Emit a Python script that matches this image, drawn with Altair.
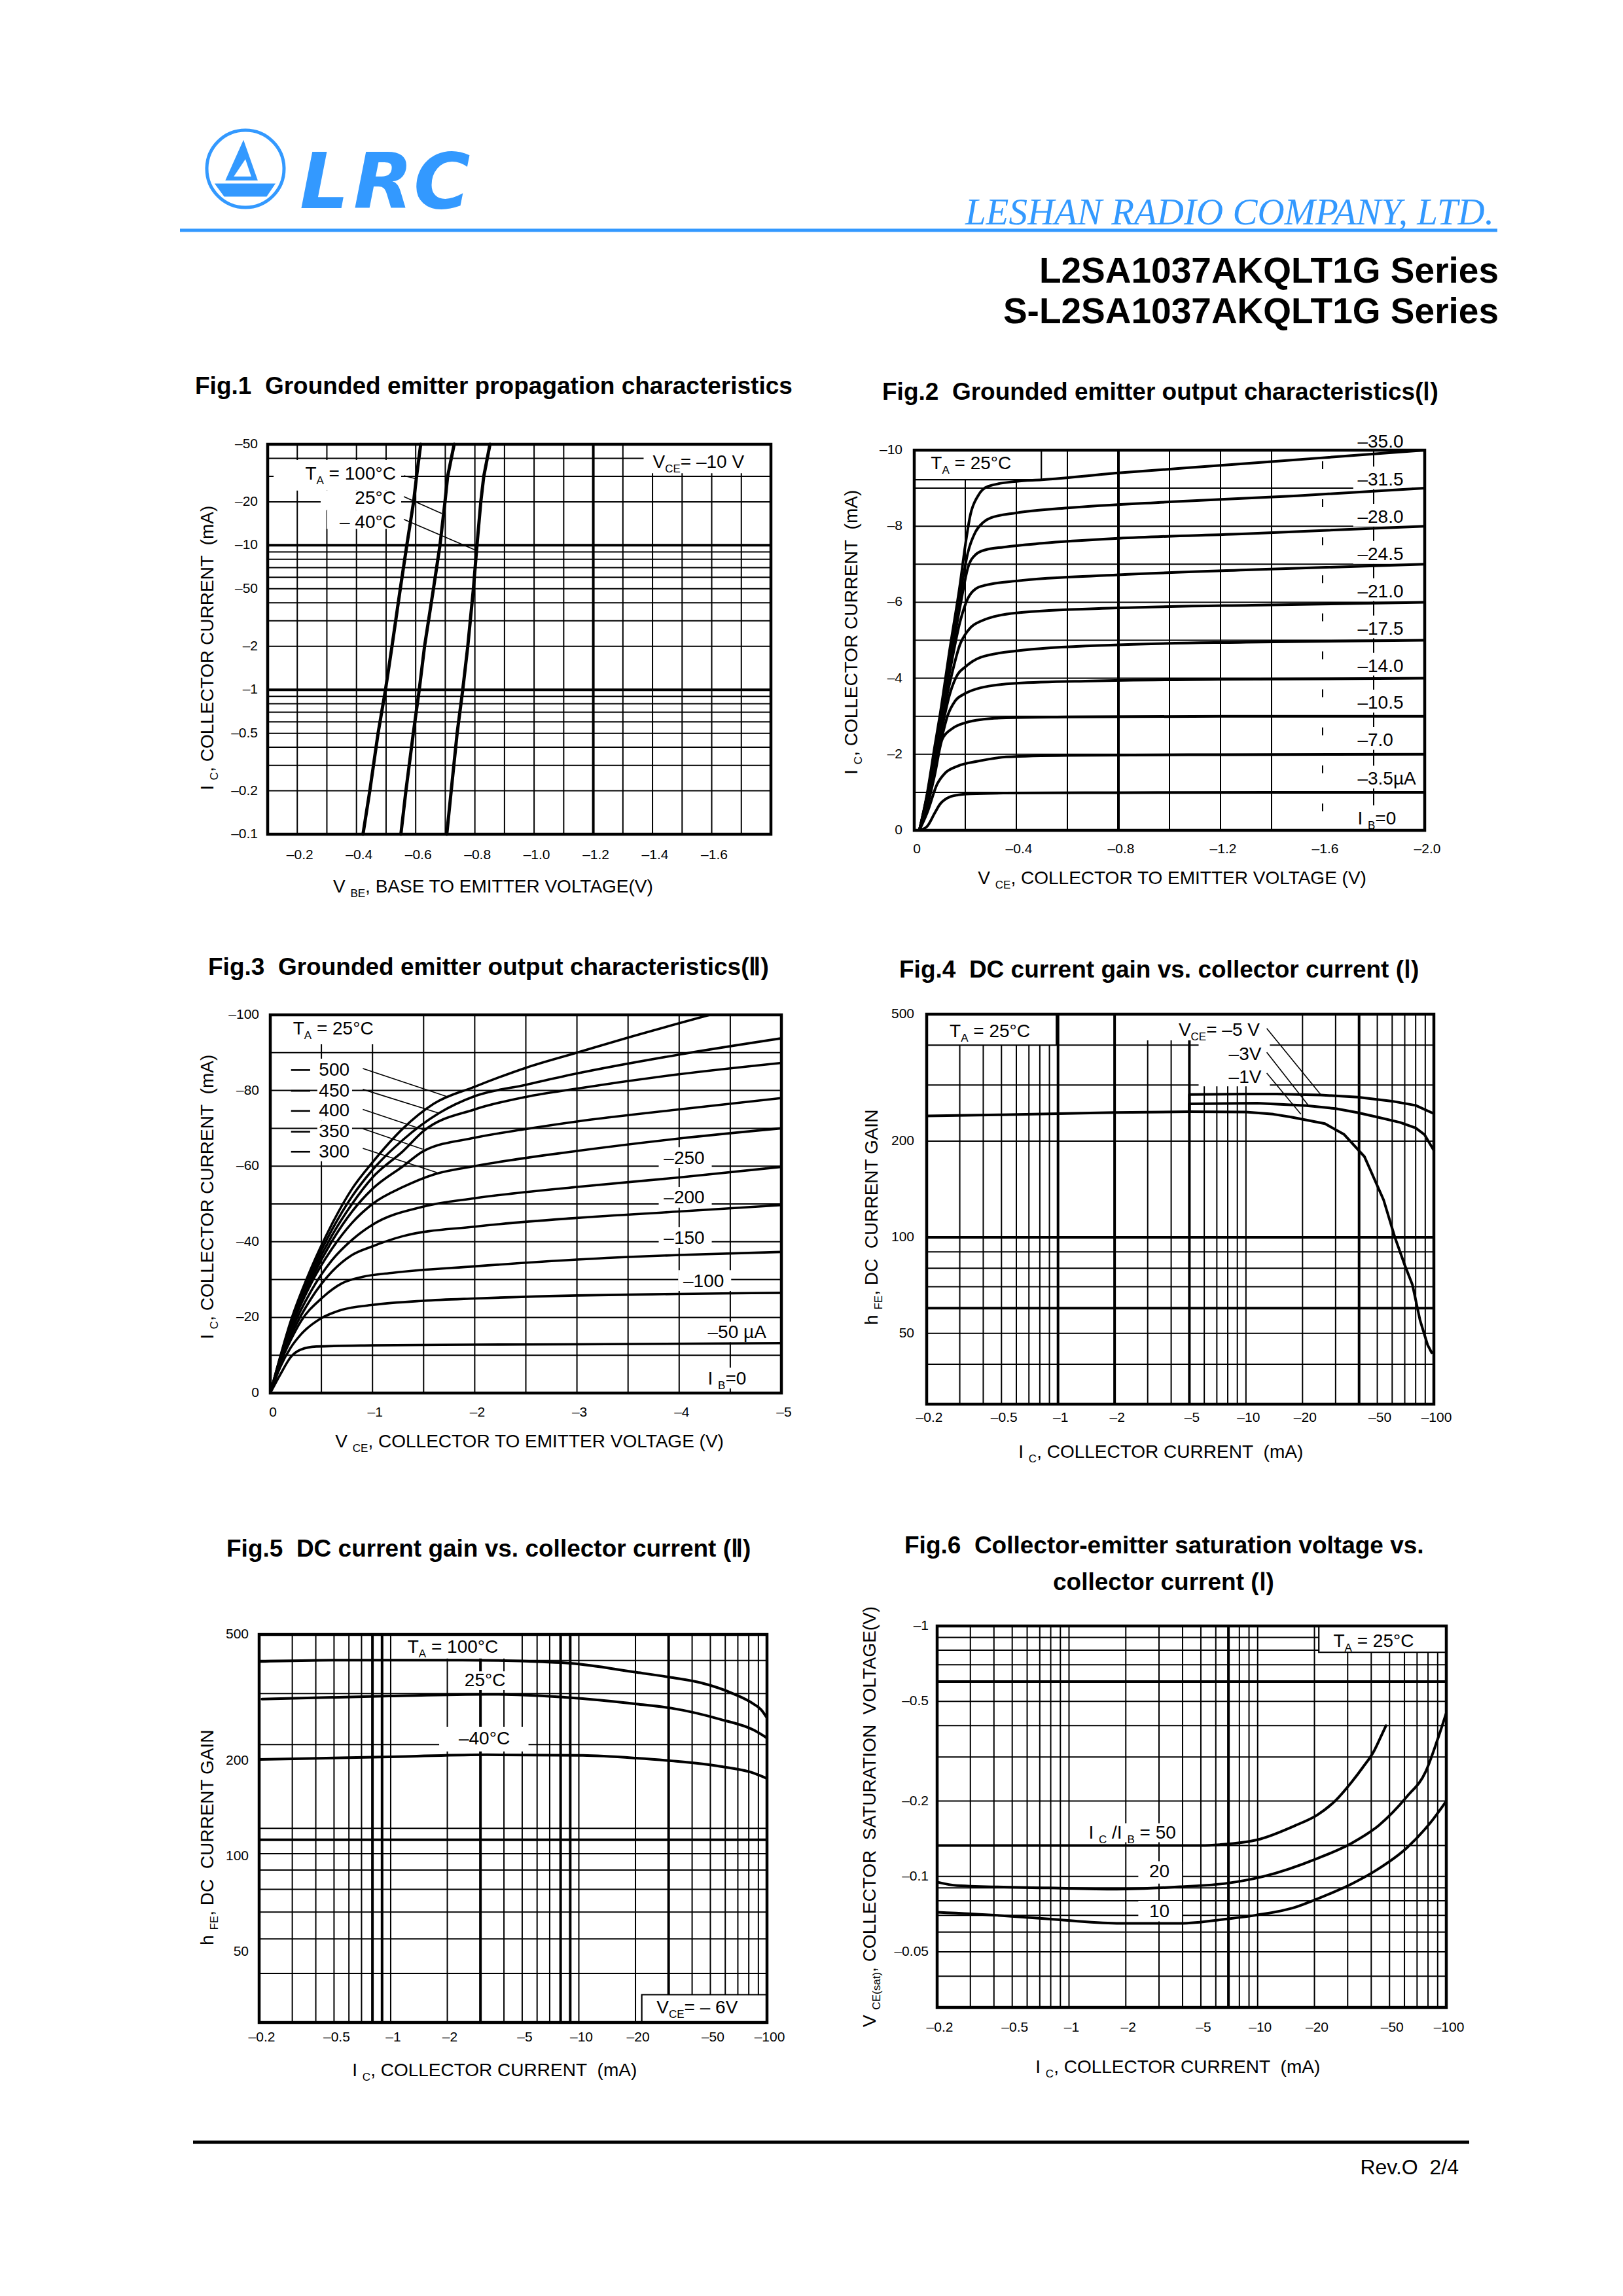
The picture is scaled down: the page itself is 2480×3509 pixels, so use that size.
import altair as alt
import pandas as pd

# ============================ DATA ============================
# ---- Fig.1  I_C (mA) vs V_BE (V) at V_CE = -10 V (magnitudes)
fig1_ic = [0.1, 0.2, 0.5, 1, 2, 5, 10, 20, 30, 50]
fig1_vbe_100c = [0.422, 0.445, 0.473, 0.498, 0.520, 0.548, 0.570, 0.593, 0.603, 0.617]
fig1_vbe_25c = [0.550, 0.567, 0.592, 0.612, 0.630, 0.660, 0.682, 0.699, 0.708, 0.730]
fig1_vbe_m40c = [0.705, 0.720, 0.740, 0.759, 0.776, 0.795, 0.807, 0.820, 0.830, 0.851]
fig1_x_ticks = [0.2, 0.4, 0.6, 0.8, 1.0, 1.2, 1.4, 1.6]
fig1_x_labels = ["–0.2", "–0.4", "–0.6", "–0.8", "–1.0", "–1.2", "–1.4", "–1.6"]
fig1_y_ticks = [50, 20, 10, 5, 2, 1, 0.5, 0.2, 0.1]
fig1_y_labels = ["–50", "–20", "–10", "–50", "–2", "–1", "–0.5", "–0.2", "–0.1"]
fig1_grid_v = [0.2, 0.3, 0.4, 0.5, 0.6, 0.7, 0.8, 0.9, 1.0, 1.1, 1.2, 1.3, 1.4, 1.5, 1.6, 1.7]
fig1_grid_i = [0.2, 0.3, 0.4, 0.5, 0.6, 0.7, 0.8, 0.9, 1, 2, 3, 4, 5, 6, 7, 8, 9, 10, 20, 30, 40]

# ---- Fig.2  I_C (mA) vs V_CE (V), I_B steps (uA)
fig2_ib = ["35.0", "31.5", "28.0", "24.5", "21.0", "17.5", "14.0", "10.5", "7.0", "3.5"]
fig2_vce = {
    "3.5": [0.02, 0.05, 0.08, 0.10, 0.13, 0.17, 0.22, 0.35, 0.8, 1.4, 2.0],
    "7.0": [0.02, 0.05, 0.09, 0.12, 0.17, 0.25, 0.36, 0.6, 1.2, 2.0],
    "10.5": [0.02, 0.05, 0.08, 0.11, 0.15, 0.20, 0.27, 0.36, 0.6, 1.2, 2.0],
    "14.0": [0.02, 0.05, 0.08, 0.10, 0.13, 0.16, 0.20, 0.26, 0.40, 0.70, 1.2, 2.0],
    "17.5": [0.02, 0.05, 0.08, 0.10, 0.14, 0.17, 0.20, 0.26, 0.40, 0.80, 1.3, 2.0],
    "21.0": [0.02, 0.05, 0.08, 0.10, 0.14, 0.18, 0.21, 0.26, 0.40, 0.80, 1.4, 2.0],
    "24.5": [0.02, 0.05, 0.08, 0.10, 0.14, 0.18, 0.21, 0.24, 0.28, 0.40, 0.80, 1.3, 2.0],
    "28.0": [0.02, 0.05, 0.08, 0.10, 0.14, 0.18, 0.21, 0.24, 0.28, 0.35, 0.50, 0.80, 1.3, 2.0],
    "31.5": [0.02, 0.05, 0.08, 0.10, 0.14, 0.18, 0.21, 0.24, 0.27, 0.30, 0.40, 0.60, 1.0, 1.5, 2.0],
    "35.0": [0.02, 0.05, 0.08, 0.10, 0.14, 0.18, 0.20, 0.22, 0.25, 0.29, 0.40, 0.50, 0.80, 1.2, 1.6, 2.0],
}
fig2_ic = {
    "3.5": [0.0, 0.10, 0.45, 0.68, 0.85, 0.93, 0.96, 0.98, 0.99, 1.0, 1.0],
    "7.0": [0.0, 0.45, 1.22, 1.50, 1.69, 1.82, 1.93, 1.97, 1.99, 2.0],
    "10.5": [0.0, 0.6, 1.45, 2.40, 2.68, 2.83, 2.92, 2.96, 2.98, 3.0, 3.0],
    "14.0": [0.0, 0.7, 1.6, 2.2, 3.0, 3.4, 3.6, 3.75, 3.87, 3.93, 3.97, 4.0],
    "17.5": [0.0, 0.75, 1.7, 2.4, 3.6, 4.1, 4.3, 4.55, 4.72, 4.88, 4.95, 5.0],
    "21.0": [0.0, 0.8, 1.8, 2.6, 3.9, 4.9, 5.25, 5.5, 5.72, 5.85, 5.93, 6.0],
    "24.5": [0.0, 0.85, 1.9, 2.7, 4.2, 5.5, 6.1, 6.35, 6.45, 6.56, 6.72, 6.85, 7.0],
    "28.0": [0.0, 0.9, 2.0, 2.8, 4.4, 5.9, 6.9, 7.25, 7.38, 7.45, 7.55, 7.68, 7.8, 8.0],
    "31.5": [0.0, 0.9, 2.1, 2.9, 4.6, 6.2, 7.3, 7.85, 8.1, 8.22, 8.35, 8.48, 8.64, 8.8, 9.0],
    "35.0": [0.0, 0.95, 2.2, 3.0, 4.8, 6.5, 7.5, 8.3, 8.8, 9.05, 9.18, 9.22, 9.4, 9.6, 9.8, 10.0],
}
fig2_label_text = ["–35.0", "–31.5", "–28.0", "–24.5", "–21.0", "–17.5", "–14.0", "–10.5", "–7.0", "–3.5µA"]
fig2_label_base = [10.07, 9.07, 8.09, 7.11, 6.13, 5.15, 4.17, 3.20, 2.22, 1.20]
fig2_x_ticks = [0, 0.4, 0.8, 1.2, 1.6, 2.0]
fig2_x_labels = ["0", "–0.4", "–0.8", "–1.2", "–1.6", "–2.0"]
fig2_y_ticks = [0, 2, 4, 6, 8, 10]
fig2_y_labels = ["0", "–2", "–4", "–6", "–8", "–10"]
fig2_grid_v = [0.2, 0.4, 0.6, 0.8, 1.0, 1.2, 1.4, 1.8]
fig2_grid_i = [1, 2, 3, 4, 5, 6, 7, 8, 9]

# ---- Fig.3  I_C (mA) vs V_CE (V), I_B steps (uA)
fig3_ib = ["500", "450", "400", "350", "300", "250", "200", "150", "100", "50"]
fig3_vce = {
    "50": [0, 0.1, 0.2, 0.3, 0.45, 1.0, 2.0, 3.0, 5.0],
    "100": [0, 0.1, 0.2, 0.3, 0.5, 0.7, 1.0, 1.5, 2.0, 3.0, 4.0, 5.0],
    "150": [0, 0.1, 0.2, 0.3, 0.5, 0.7, 0.9, 1.2, 2.0, 3.0, 4.0, 5.0],
    "200": [0, 0.2, 0.4, 0.6, 0.8, 1.0, 1.3, 2.0, 3.0, 4.0, 5.0],
    "250": [0, 0.2, 0.4, 0.6, 0.8, 1.0, 1.5, 2.0, 3.0, 4.0, 5.0],
    "300": [0, 0.2, 0.4, 0.6, 0.8, 1.0, 1.3, 1.6, 2.0, 3.0, 4.0, 5.0],
    "350": [0, 0.2, 0.4, 0.6, 0.8, 1.0, 1.3, 1.5, 2.0, 2.5, 3.0, 4.0, 5.0],
    "400": [0, 0.2, 0.4, 0.6, 0.8, 1.0, 1.3, 1.5, 2.0, 2.5, 3.0, 4.0, 5.0],
    "450": [0, 0.2, 0.4, 0.6, 0.8, 1.0, 1.3, 1.65, 2.0, 2.5, 3.0, 4.0, 5.0],
    "500": [0, 0.2, 0.4, 0.6, 0.8, 1.0, 1.3, 1.6, 2.0, 2.5, 3.0, 3.5, 4.3],
}
fig3_ic = {
    "50": [0, 5, 9.5, 11.5, 12.3, 12.6, 12.8, 12.9, 13.2],
    "100": [0, 7, 12, 15.5, 19.8, 22, 23.3, 24.4, 25, 25.8, 26.2, 26.5],
    "150": [0, 8, 14, 19, 25, 29, 30.7, 31.8, 33.5, 35.3, 36.5, 37.3],
    "200": [0, 15, 25, 32, 36.5, 38.8, 41.5, 44, 46.3, 48, 49.7],
    "250": [0, 16, 27, 35, 40.5, 44.5, 49.3, 51.5, 54.5, 57, 59.8],
    "300": [0, 17, 29, 38, 45, 50, 54.5, 57.8, 60, 64, 67.3, 70],
    "350": [0, 17.5, 30, 40, 48, 54, 60, 64, 67.5, 69.8, 71.8, 75, 78],
    "400": [0, 18, 31, 41.5, 50, 57, 64, 69.3, 75, 78.3, 80.5, 84.3, 87.3],
    "450": [0, 18.5, 32, 43, 52, 59, 67, 74, 78.5, 81.5, 84.5, 89.5, 93.8],
    "500": [0, 19, 33, 44.5, 54, 61, 70, 76.5, 81, 86, 90, 94, 100],
}
fig3_left_labels = ["500", "450", "400", "350", "300"]
fig3_left_base = [83.9, 78.4, 73.1, 67.6, 62.3]
fig3_dash_y = [85.4, 79.9, 74.6, 69.1, 63.8]
fig3_leader_from_i = [85.8, 80.3, 75.0, 69.9, 64.7]
fig3_leader_to_v = [1.74, 1.65, 1.51, 1.49, 1.63]
fig3_leader_to_i = [78.3, 74.0, 69.5, 64.5, 58.3]
fig3_right_labels = ["–250", "–200", "–150", "–100", "–50 µA"]
fig3_right_v = [3.85, 3.85, 3.85, 4.04, 4.28]
fig3_right_base = [60.6, 50.1, 39.5, 28.1, 14.5]
fig3_x_ticks = [0, 1, 2, 3, 4, 5]
fig3_x_labels = ["0", "–1", "–2", "–3", "–4", "–5"]
fig3_y_ticks = [0, 20, 40, 60, 80, 100]
fig3_y_labels = ["0", "–20", "–40", "–60", "–80", "–100"]
fig3_grid_v = [0.5, 1, 1.5, 2, 2.5, 3, 3.5, 4, 4.5]
fig3_grid_i = [10, 20, 30, 40, 50, 60, 70, 80, 90]

# ---- Fig.4  h_FE vs I_C (mA), T_A = 25 C
fig4_ic_1v = [0.2, 0.5, 1, 2, 5, 10, 14, 17.4, 26.3, 33.3, 42.7, 54, 62, 69.9, 76.9, 84.4, 92.6, 97.3]
fig4_hfe_1v = [240, 242, 244, 246, 247.5, 247, 243, 238, 227, 210, 179, 131, 100, 82, 71, 55, 46, 43.5]
fig4_ic_3v = [5, 5, 11.5, 21, 30, 39, 50, 66, 80, 89, 100]
fig4_hfe_3v = [247.5, 262, 263, 258.6, 253, 246, 238, 229, 220, 210, 187]
fig4_ic_5v = [5, 5, 10, 14.6, 25, 39.3, 59.8, 80, 100]
fig4_hfe_5v = [247.5, 280, 281, 281, 279, 275, 267, 259, 244]

# ---- Fig.5  h_FE vs I_C (mA), V_CE = -6 V
fig5_ic_100c = [0.2, 0.55, 2.4, 6.4, 9, 20.2, 31.1, 44.8, 66.6, 85, 93, 100]
fig5_hfe_100c = [411, 415, 415, 410, 406, 380, 366, 352, 325, 302, 290, 273]
fig5_ic_25c = [0.207, 0.98, 3.24, 10.5, 20.2, 31.1, 56.8, 85, 100]
fig5_hfe_25c = [313, 320, 324, 314, 302, 293, 270, 250, 236]
fig5_ic_m40c = [0.2, 1.2, 3.24, 10.5, 20.2, 31.1, 56.8, 85, 100]
fig5_hfe_m40c = [202, 206.5, 209, 208, 204, 200, 192, 183, 176]
fig5_grid_h = [42.8, 55, 66.8, 78.8, 90.6, 102, 112.8, 122.6, 225, 326, 414]

# ---- Fig.6  V_CE(sat) (V) vs I_C (mA)
fig6_ic_50 = [0.2, 0.5, 1, 2, 5, 6.3, 10.3, 15.9, 20.7, 25.7, 31.6, 36, 41.4, 44.5, 47.9]
fig6_v_50 = [0.133, 0.133, 0.133, 0.133, 0.133, 0.134, 0.141, 0.160, 0.176, 0.20, 0.239, 0.272, 0.317, 0.355, 0.40]
fig6_ic_20 = [0.2, 0.255, 0.78, 1.79, 3.88, 6.9, 10.7, 20.7, 31.6, 43.9, 61.7, 77.9, 89.4, 100]
fig6_v_20 = [0.095, 0.092, 0.090, 0.089, 0.091, 0.094, 0.100, 0.118, 0.136, 0.160, 0.208, 0.263, 0.348, 0.45]
fig6_ic_10 = [0.2, 0.415, 0.78, 1.79, 3.88, 6.9, 9.7, 15.9, 20.7, 31.6, 42.6, 61.7, 82.4, 100]
fig6_v_10 = [0.072, 0.070, 0.0677, 0.065, 0.065, 0.0677, 0.070, 0.0755, 0.0814, 0.0935, 0.106, 0.130, 0.164, 0.20]
fig6_grid_v = [0.04, 0.05, 0.06, 0.07, 0.08, 0.09, 0.1, 0.133, 0.2, 0.3, 0.4, 0.5, 0.6, 0.7, 0.8, 0.9]
fig6_y_ticks = [1, 0.5, 0.2, 0.1, 0.05]
fig6_y_labels = ["–1", "–0.5", "–0.2", "–0.1", "–0.05"]

# shared log axes for Fig.4-6
ic_ticks = [0.2, 0.5, 1, 2, 5, 10, 20, 50, 100]
ic_labels = ["–0.2", "–0.5", "–1", "–2", "–5", "–10", "–20", "–50", "–100"]
ic_grid = [0.3, 0.4, 0.5, 0.6, 0.7, 0.8, 0.9, 1, 2, 3, 4, 5, 6, 7, 8, 9, 10, 20, 30, 40, 50, 60, 70, 80, 90]
hfe_ticks = [50, 100, 200, 500]
hfe_labels = ["50", "100", "200", "500"]
hfe_grid = [40, 50, 60, 70, 80, 90, 100, 200, 300, 400]

# ============================ HELPERS ============================
FONT = "Liberation Sans"
BLUE = "#3399ff"
W, H = 2464, 3493
ONE = pd.DataFrame({"k": [0]})
GRID_W, HEAVY_W, FRAME_W = 2.0, 4.0, 4.5
TICK_F = 21


def P(v):
    return v - 8


AW = {" ": 278, "\u00a0": 278, "!": 278, "(": 333, ")": 333, ",": 278, "-": 333, ".": 278, "/": 278,
      ":": 278, "=": 584, "°": 400, "–": 556, "µ": 556}
for _c in "0123456789":
    AW[_c] = 556
AW.update(dict(zip("ABCDEFGHIJKLMNOPQRSTUVWXYZ",
                   [667, 667, 722, 722, 667, 611, 778, 722, 278, 500, 667, 556, 833, 722, 778, 667, 778,
                    722, 667, 611, 722, 667, 944, 667, 667, 611])))
AW.update(dict(zip("abcdefghijklmnopqrstuvwxyz",
                   [556, 556, 500, 556, 556, 278, 556, 556, 222, 222, 500, 222, 833, 556, 556, 556, 556,
                    333, 500, 278, 556, 500, 722, 500, 500, 500])))


def tw(s, f):
    return sum(AW.get(c, 556) for c in s) * f / 1000.0


def rich(pieces, x, y, align="left", angle=0, weight="normal", color="black"):
    widths = [tw(t, f) for t, f, _ in pieces]
    total = sum(widths)
    off = {"left": 0.0, "center": -total / 2.0, "right": -total}[align]
    out = []
    for (t, f, d), w in zip(pieces, widths):
        lead = len(t) - len(t.lstrip(" "))
        s = t.strip(" ").replace("  ", "\u00a0 ")
        if s:
            out.append(alt.Chart(ONE).mark_text(
                text=s, font=FONT, fontSize=f, fontWeight=weight, color=color, align="left",
                baseline="alphabetic", angle=angle, dx=off + tw(" " * lead, f), dy=d
            ).encode(x=x, y=y))
        off += w
    return out


def ptext(text, px, py, size, align="left", weight="normal", style="normal", color="black", font=FONT):
    return alt.Chart(ONE).mark_text(
        text=text.replace("  ", "\u00a0 "), font=font, fontSize=size, fontWeight=weight, fontStyle=style,
        color=color, align=align, baseline="alphabetic"
    ).encode(x=alt.value(P(px)), y=alt.value(P(py)))


def series_df(series):
    rows = []
    for name, xv, yv in series:
        for k, (a, b) in enumerate(zip(xv, yv)):
            rows.append({"x": a, "y": b, "s": name, "o": k})
    return pd.DataFrame(rows)


def figure(fr, xdom, ydom, xlog, ylog, xticks, yticks, grid_x, grid_y, heavy_x, heavy_y,
           series, cw, interp, boxes, bboxes, segs, texts, dashed=()):
    def sc(dom, rng, log):
        if log:
            return alt.Scale(type="log", domain=dom, range=rng, nice=False)
        return alt.Scale(type="linear", domain=dom, range=rng, nice=False, zero=False)

    xs = sc(xdom, [P(fr["l"]), P(fr["r"])], xlog)
    ys = sc(ydom, [P(fr["b"]), P(fr["t"])], ylog)

    def X(d):
        return alt.X(datum=d, scale=xs, axis=None)

    def Y(d):
        return alt.Y(datum=d, scale=ys, axis=None)

    L = []
    L.append(alt.Chart(pd.DataFrame({"g": grid_x})).mark_rule(color="black", strokeWidth=GRID_W).encode(
        x=alt.X("g:Q", scale=xs, axis=None), y=Y(ydom[1]), y2=alt.Y2(datum=ydom[0])))
    L.append(alt.Chart(pd.DataFrame({"g": grid_y})).mark_rule(color="black", strokeWidth=GRID_W).encode(
        y=alt.Y("g:Q", scale=ys, axis=None), x=X(xdom[0]), x2=alt.X2(datum=xdom[1])))
    if heavy_x:
        L.append(alt.Chart(pd.DataFrame({"g": heavy_x})).mark_rule(color="black", strokeWidth=HEAVY_W).encode(
            x=alt.X("g:Q", scale=xs, axis=None), y=Y(ydom[1]), y2=alt.Y2(datum=ydom[0])))
    if heavy_y:
        L.append(alt.Chart(pd.DataFrame({"g": heavy_y})).mark_rule(color="black", strokeWidth=HEAVY_W).encode(
            y=alt.Y("g:Q", scale=ys, axis=None), x=X(xdom[0]), x2=alt.X2(datum=xdom[1])))
    for xv, dash, off in dashed:
        L.append(alt.Chart(ONE).mark_rule(color="black", strokeWidth=GRID_W, strokeDash=dash,
                                          strokeDashOffset=off).encode(
            x=X(xv), y=Y(ydom[1]), y2=alt.Y2(datum=ydom[0])))
    for x0, x1, y0, y1 in boxes:
        L.append(alt.Chart(ONE).mark_rect(color="white").encode(
            x=X(x0), x2=alt.X2(datum=x1), y=Y(y0), y2=alt.Y2(datum=y1)))
    for x0, x1, y0, y1 in bboxes:
        L.append(alt.Chart(ONE).mark_rect(fill="white", stroke="black", strokeWidth=2.2).encode(
            x=X(x0), x2=alt.X2(datum=x1), y=Y(y0), y2=alt.Y2(datum=y1)))
    L.append(alt.Chart(series_df(series)).mark_line(
        color="black", strokeWidth=cw, interpolate=interp, strokeJoin="round", strokeCap="round").encode(
        x=alt.X("x:Q", scale=xs, axis=None), y=alt.Y("y:Q", scale=ys, axis=None), detail="s:N", order="o:Q"))
    for x0, y0, x1, y1, w in segs:
        L.append(alt.Chart(ONE).mark_rule(color="black", strokeWidth=w).encode(
            x=X(x0), x2=alt.X2(datum=x1), y=Y(y0), y2=alt.Y2(datum=y1)))
    L.append(alt.Chart(ONE).mark_rect(fillOpacity=0, stroke="black", strokeWidth=FRAME_W).encode(
        x=X(xdom[0]), x2=alt.X2(datum=xdom[1]), y=Y(ydom[0]), y2=alt.Y2(datum=ydom[1])))
    # tick labels, placed through the figure's own scales
    xv, xl, xpad = xticks
    L.append(alt.Chart(pd.DataFrame({"v": xv, "t": xl})).mark_text(
        font=FONT, fontSize=TICK_F, color="black", align="center", baseline="top", dx=4).encode(
        x=alt.X("v:Q", scale=xs, axis=None), y=alt.value(P(fr["b"]) + xpad), text="t:N"))
    yv, yl, ypad = yticks
    L.append(alt.Chart(pd.DataFrame({"v": yv, "t": yl})).mark_text(
        font=FONT, fontSize=TICK_F, color="black", align="right", baseline="middle").encode(
        y=alt.Y("v:Q", scale=ys, axis=None), x=alt.value(P(fr["l"]) - ypad), text="t:N"))
    for pieces, xv_, yv_, align in texts:
        L.extend(rich(pieces, X(xv_), Y(yv_), align=align))
    return alt.layer(*L)


MF, SF, SD = 28, 17, 7


def ta(val):
    return [("T", MF, 0), ("A", SF, SD), (" = " + val, MF, 0)]


def one(t):
    return [(t, MF, 0)]


# ============================ FIGURES ============================
F1 = dict(l=409, r=1178, t=679, b=1275)
F2 = dict(l=1397, r=2177, t=688, b=1269)
F3 = dict(l=413, r=1194, t=1551, b=2129)
F4 = dict(l=1416, r=2191, t=1550, b=2146)
F5 = dict(l=396, r=1172, t=2498, b=3091)
F6 = dict(l=1432, r=2210, t=2485, b=3068)

fig1 = figure(
    F1, [0.1, 1.8], [0.1, 50], False, True,
    (fig1_x_ticks, fig1_x_labels, 21), (fig1_y_ticks, fig1_y_labels, 15),
    fig1_grid_v, fig1_grid_i, [1.2], [1, 10],
    [("100", fig1_vbe_100c, fig1_ic), ("25", fig1_vbe_25c, fig1_ic), ("-40", fig1_vbe_m40c, fig1_ic)],
    5.0, "linear",
    boxes=[(0.12, 0.551, 23.9, 38.9), (0.279, 0.551, 17.5, 23.9), (0.30, 0.551, 13.0, 17.5),
           (1.37, 1.8, 31.5, 50)],
    bboxes=[],
    segs=[(0.56, 30.3, 0.606, 28.7, 1.6), (0.56, 21.7, 0.688, 16.6, 1.6), (0.56, 15.1, 0.798, 9.33, 1.6)],
    texts=[(ta("100°C"), 0.533, 28.4, "right"), (one("25°C"), 0.533, 19.4, "right"),
           (one("– 40°C"), 0.533, 13.2, "right"),
           ([("V", MF, 0), ("CE", SF, SD), ("= –10 V", MF, 0)], 1.401, 34.3, "left")],
)

fig2_series = [(k, fig2_vce[k], fig2_ic[k]) for k in fig2_ib]
fig2_boxes = []
fig2_texts = [(ta("25°C"), 0.065, 9.5, "left")]
for t, b in zip(fig2_label_text, fig2_label_base):
    fig2_boxes.append((1.72, 1.99 if "µ" in t else 1.95, b - 0.1, b + 0.5))
    fig2_texts.append((one(t), 1.737, b, "left"))
fig2_boxes.append((1.72, 1.95, 0.06, 0.66))
fig2_texts.append(([("I ", MF, 0), ("B", SF, SD), ("=0", MF, 0)], 1.737, 0.16, "left"))
fig2 = figure(
    F2, [0, 2.0], [0, 10], False, False,
    (fig2_x_ticks, fig2_x_labels, 18), (fig2_y_ticks, fig2_y_labels, 18),
    fig2_grid_v, fig2_grid_i, [0.8], [],
    fig2_series, 4.0, "monotone",
    boxes=fig2_boxes, bboxes=[(0, 0.498, 9.225, 10)], segs=[], texts=fig2_texts,
    dashed=[(1.6, [12, 46.1], 41.1)],
)

fig3_series = [(k, fig3_vce[k], fig3_ic[k]) for k in fig3_ib]
fig3_boxes = [(0, 1.06, 92.2, 100)]
fig3_segs = []
fig3_texts = [(ta("25°C"), 0.222, 94.8, "left")]
for t, b, dy, fi, tv, ti in zip(fig3_left_labels, fig3_left_base, fig3_dash_y, fig3_leader_from_i,
                                fig3_leader_to_v, fig3_leader_to_i):
    fig3_boxes.append((0.46, 0.80, b - 1.0, b + 4.5))
    fig3_segs.append((0.203, dy, 0.39, dy, 2.6))
    fig3_segs.append((0.905, fi, tv, ti, 1.6))
    fig3_texts.append((one(t), 0.476, b, "left"))
for t, v, b in zip(fig3_right_labels, fig3_right_v, fig3_right_base):
    fig3_boxes.append((v - 0.05, v + tw(t, MF) / 156.2 + 0.07, b - 1.1, b + 4.4))
    fig3_texts.append((one(t), v, b, "left"))
fig3_boxes.append((4.24, 4.73, 1.2, 6.7))
fig3_texts.append(([("I ", MF, 0), ("B", SF, SD), ("=0", MF, 0)], 4.28, 2.3, "left"))
fig3 = figure(
    F3, [0, 5], [0, 100], False, False,
    (fig3_x_ticks, fig3_x_labels, 19), (fig3_y_ticks, fig3_y_labels, 17),
    fig3_grid_v, fig3_grid_i, [], [],
    fig3_series, 3.6, "monotone",
    boxes=fig3_boxes, bboxes=[], segs=fig3_segs, texts=fig3_texts,
)

fig4 = figure(
    F4, [0.2, 100], [30, 500], True, True,
    (ic_ticks, ic_labels, 10), (hfe_ticks, hfe_labels, 19),
    ic_grid, hfe_grid, [1, 2, 5, 40], [60, 100],
    [("-1V", fig4_ic_1v, fig4_hfe_1v), ("-3V", fig4_ic_3v, fig4_hfe_3v), ("-5V", fig4_ic_5v, fig4_hfe_5v)],
    4.0, "linear",
    boxes=[(2.6, 13.4, 414, 500), (5.6, 13.4, 297, 414)],
    bboxes=[(0.2, 0.98, 400, 500)],
    segs=[(12.9, 451, 25.1, 279, 1.6), (12.9, 380, 21.6, 258, 1.6), (12.9, 327, 19.6, 243, 1.6)],
    texts=[(ta("25°C"), 0.265, 423, "left"),
           ([("V", MF, 0), ("CE", SF, SD), ("= –5 V", MF, 0)], 4.38, 428, "left"),
           (one("–3V"), 8.1, 359, "left"), (one("–1V"), 8.1, 304, "left")],
)

fig5 = figure(
    F5, [0.2, 100], [30, 500], True, True,
    (ic_ticks, ic_labels, 12), (hfe_ticks, hfe_labels, 16),
    ic_grid, fig5_grid_h, [0.8, 0.9, 3, 8, 9, 30], [112.8],
    [("100", fig5_ic_100c, fig5_hfe_100c), ("25", fig5_ic_25c, fig5_hfe_25c), ("-40", fig5_ic_m40c, fig5_hfe_m40c)],
    4.0, "monotone",
    boxes=[(1.03, 4.1, 420, 500), (2.16, 4.3, 334, 383), (1.81, 5.4, 214, 256)],
    bboxes=[(21.6, 100, 30, 36.7)],
    segs=[],
    texts=[(ta("100°C"), 1.229, 437, "left"), (one("25°C"), 2.47, 343, "left"),
           (one("–40°C"), 2.3, 225, "left"),
           ([("V", MF, 0), ("CE", SF, SD), ("= – 6V", MF, 0)], 25.9, 32.1, "left")],
)

fig6 = figure(
    F6, [0.2, 100], [0.03, 1], True, True,
    (ic_ticks, ic_labels, 20), (fig6_y_ticks, fig6_y_labels, 13),
    ic_grid, fig6_grid_v, [7], [0.6],
    [("50", fig6_ic_50, fig6_v_50), ("20", fig6_ic_20, fig6_v_20), ("10", fig6_ic_10, fig6_v_10)],
    4.0, "monotone",
    boxes=[(1.21, 3.8, 0.137, 0.163), (2.33, 3.97, 0.0937, 0.115), (2.33, 3.97, 0.0662, 0.080)],
    bboxes=[(21.1, 100, 0.785, 1)],
    segs=[],
    texts=[(ta("25°C"), 25.2, 0.827, "left"),
           ([("I ", MF, 0), ("C", SF, SD), (" /I ", MF, 0), ("B", SF, SD), (" = 50", MF, 0)], 1.27, 0.1418, "left"),
           (one("20"), 2.66, 0.0993, "left"), (one("10"), 2.66, 0.0689, "left")],
)

# ============================ PAGE ELEMENTS ============================
page = []
# logo
page.append(alt.Chart(ONE).mark_point(shape="circle", filled=False, size=118 ** 2, strokeWidth=5,
                                      color=BLUE, opacity=1).encode(x=alt.value(P(375)), y=alt.value(P(258))))
page.append(alt.Chart(ONE).mark_point(
    shape="M-0.05,-0.75L0.32,0.3L-0.52,0.3ZM-0.8,0.38L0.78,0.38L0.55,0.72L-0.55,0.72Z",
    filled=True, size=118 ** 2, color=BLUE, opacity=1, strokeWidth=0).encode(
    x=alt.value(P(375)), y=alt.value(P(258))))
page.append(alt.Chart(ONE).mark_point(
    shape="M0.0,-0.25L0.15,0.2L-0.3,0.2Z", filled=True, size=118 ** 2, color="white", opacity=1,
    strokeWidth=0).encode(x=alt.value(P(375)), y=alt.value(P(258))))
for ch, lx in zip("LRC", [458, 540, 632]):
    page.append(ptext(ch, lx, 318, 118, weight="bold", style="italic", color=BLUE, font="DejaVu Sans"))
page.append(ptext("LESHAN RADIO COMPANY, LTD.", 2283, 343, 57, align="right", style="italic",
                  color=BLUE, font="Liberation Serif"))
page.append(alt.Chart(ONE).mark_rule(color=BLUE, strokeWidth=5).encode(
    x=alt.value(P(275)), x2=alt.value(P(2288)), y=alt.value(P(352))))
page.append(ptext("L2SA1037AKQLT1G Series", 2290, 432, 55, align="right", weight="bold"))
page.append(ptext("S-L2SA1037AKQLT1G Series", 2290, 494, 55, align="right", weight="bold"))

# figure titles
for t, x, y in [("Fig.1  Grounded emitter propagation characteristics", 298, 602),
                ("Fig.2  Grounded emitter output characteristics(Ⅰ)", 1348, 611),
                ("Fig.3  Grounded emitter output characteristics(Ⅱ)", 318, 1490),
                ("Fig.4  DC current gain vs. collector current (Ⅰ)", 1374, 1494),
                ("Fig.5  DC current gain vs. collector current (Ⅱ)", 346, 2379),
                ("Fig.6  Collector-emitter saturation voltage vs.", 1382, 2374)]:
    page.append(ptext(t, x, y, 37, weight="bold"))
page.append(ptext("collector current (Ⅰ)", 1778, 2430, 37, align="center", weight="bold"))

# axis titles
IC_T = [("I ", MF, 0), ("C", SF, SD), (", COLLECTOR CURRENT  (mA)", MF, 0)]
VBE_T = [("V ", MF, 0), ("BE", SF, SD), (", BASE TO EMITTER VOLTAGE(V)", MF, 0)]
VCE_T = [("V ", MF, 0), ("CE", SF, SD), (", COLLECTOR TO EMITTER VOLTAGE (V)", MF, 0)]
HFE_T = [("h ", MF, 0), ("FE", SF, SD), (", DC  CURRENT GAIN", MF, 0)]
VS_T = [("V ", MF, 0), ("CE(sat)", SF, SD), (", COLLECTOR  SATURATION  VOLTAGE(V)", MF, 0)]
for pieces, x, y in [(VBE_T, 756, 1364), (VCE_T, 1794, 1351), (VCE_T, 812, 2212),
                     (IC_T, 1774, 2228), (IC_T, 756, 3173), (IC_T, 1800, 3168)]:
    page.extend(rich(pieces, alt.value(P(x)), alt.value(P(y)), align="center"))
for pieces, x, y in [(IC_T, 326, 990), (IC_T, 1310, 966), (IC_T, 326, 1829),
                     (HFE_T, 1341, 1860), (HFE_T, 326, 2808), (VS_T, 1338, 2772)]:
    page.extend(rich(pieces, alt.value(P(x)), alt.value(P(y)), align="center", angle=270))

# footer
page.append(alt.Chart(ONE).mark_rule(color="black", strokeWidth=5).encode(
    x=alt.value(P(295)), x2=alt.value(P(2245)), y=alt.value(P(3274))))
page.append(ptext("Rev.O  2/4", 2229, 3323, 32, align="right"))

chart = alt.layer(fig1, fig2, fig3, fig4, fig5, fig6, *page).resolve_scale(
    x="independent", y="independent"
).properties(
    width=W, height=H, autosize=alt.AutoSizeParams(type="none"), padding=0, background="white"
).configure_view(strokeWidth=0)

chart.save("out.html", embed_options={"renderer": "svg", "actions": False})
